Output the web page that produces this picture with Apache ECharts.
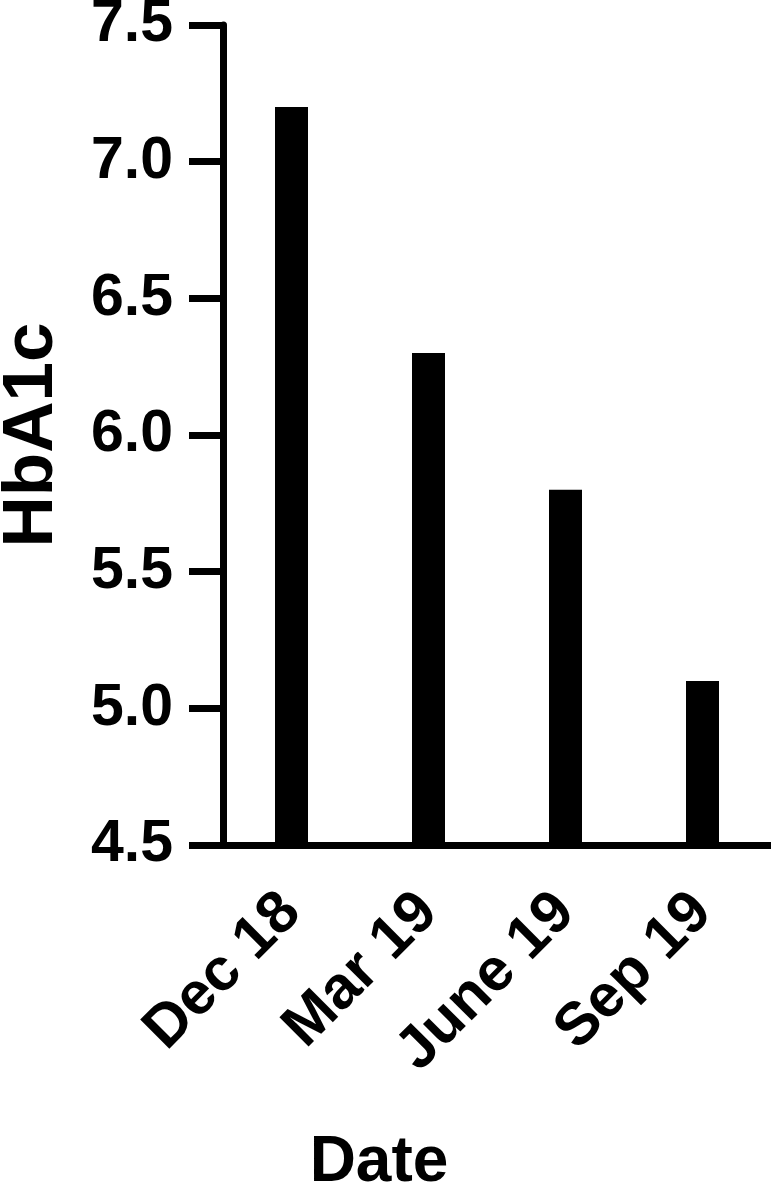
<!DOCTYPE html>
<html>
<head>
<meta charset="utf-8">
<script src="https://cdn.jsdelivr.net/npm/echarts@6/dist/echarts.min.js"></script>
<style>
html,body{margin:0;padding:0;background:#fff;}
#chart{width:771px;height:1191px;}
</style>
</head>
<body>
<div id="chart"></div>
<script>
var categories = ['Dec 18', 'Mar 19', 'June 19', 'Sep 19'];
var hba1c = [7.2, 6.3, 5.8, 5.1];
var yMin = 4.5, yMax = 7.5, yStep = 0.5;

var FONT = '"Liberation Sans", Arial, sans-serif';
var myChart = echarts.init(document.getElementById('chart'));
myChart.setOption({
    animation: false,
    backgroundColor: '#fff',
    grid: {left: 223, right: 0, top: 25, bottom: 346, containLabel: false, outerBoundsMode: 'none'},
    xAxis: {
        type: 'category',
        data: categories,
        name: 'Date',
        nameLocation: 'middle',
        nameGap: 286,
        nameTextStyle: {color: '#000', fontFamily: FONT, fontWeight: 'bold', fontSize: 64, padding: [0, 236, 0, 0]},
        axisLine: {lineStyle: {color: '#000', width: 7}},
        axisTick: {alignWithLabel: true, length: 34, lineStyle: {color: '#000', width: 7}},
        axisLabel: {interval: 0, rotate: 45, margin: 58, color: '#000', fontFamily: FONT, fontWeight: 'bold', fontSize: 60}
    },
    yAxis: {
        type: 'value',
        min: yMin,
        max: yMax,
        interval: yStep,
        name: 'HbA1c',
        nameLocation: 'middle',
        nameGap: 155,
        nameTextStyle: {color: '#000', fontFamily: FONT, fontWeight: 'bold', fontSize: 71},
        splitLine: {show: false},
        axisLine: {show: true, lineStyle: {color: '#000', width: 7}},
        axisTick: {show: true, length: 34, lineStyle: {color: '#000', width: 7}},
        axisLabel: {
            margin: 50, color: '#000', fontFamily: FONT, fontWeight: 'bold', fontSize: 59,
            formatter: function (v) { return v.toFixed(1); }
        }
    },
    series: [{
        type: 'bar',
        data: hba1c,
        barWidth: 33,
        itemStyle: {color: '#000'}
    }]
});
</script>
</body>
</html>
